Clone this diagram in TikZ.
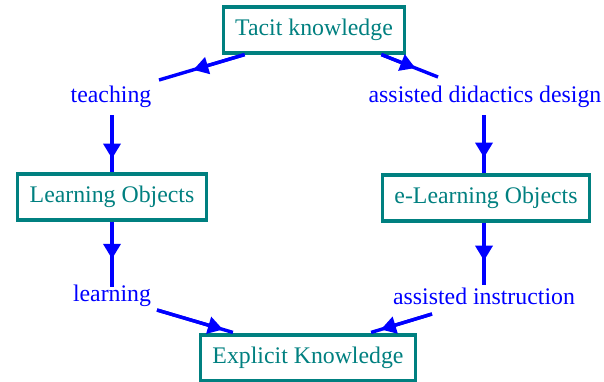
\documentclass[tikz,border=0pt]{standalone}
\usepackage{fontspec}
\setmainfont{Liberation Serif}
\usetikzlibrary{arrows.meta,calc}
\definecolor{boxteal}{RGB}{0,128,128}
\definecolor{flowblue}{RGB}{0,0,255}
\tikzset{
  kbox/.style={draw=boxteal, line width=3.2pt, fill=white, text=boxteal,
    inner xsep=12pt, minimum height=46pt, font=\fontsize{23.8}{28}\selectfont},
  stage/.style={text=flowblue, inner sep=0pt, font=\fontsize{23.8}{28}\selectfont},
  flow/.style={draw=flowblue, line width=3.4pt},
  flowtip/.style={flow, -{Triangle[length=15pt,width=17pt]}},
}
% a connector whose arrowhead sits part-way along it, at fraction #1
\newcommand{\flowlink}[3]{%
  \draw[flow] #2 -- #3;
  \draw[flowtip] #2 -- ($#2!#1!#3$);
}
\begin{document}
\begin{tikzpicture}[x=1pt,y=-1pt]
\useasboundingbox (0,0) rectangle (604,381);

% knowledge boxes
\node[kbox] (tacit)    at (314,30)  {Tacit knowledge};
\node[kbox] (lo)       at (112,197) {Learning Objects};
\node[kbox] (elo)      at (486,198) {e-Learning Objects};
\node[kbox] (explicit) at (308,358) {Explicit Knowledge};

% transformation stages
\node[stage] (teaching) at (111,97)  {teaching};
\node[stage] (design)   at (485,97)  {assisted didactics design};
\node[stage] (learning) at (112,296) {learning};
\node[stage] (instr)    at (484,296) {assisted instruction};

% connector end points
\coordinate (t1) at ($(tacit.south west)+(23,0)$);
\coordinate (t2) at ($(teaching.center)+(48,-17)$);
\coordinate (t3) at ($(teaching.center)+(1,18)$);
\coordinate (l1) at ($(learning.center)+(0,-9)$);
\coordinate (l2) at ($(learning.center)+(45,14)$);
\coordinate (e1) at ($(explicit.north west)+(34,-1)$);
\coordinate (t4) at ($(tacit.south east)+(-25,0)$);
\coordinate (d1) at ($(design.center)+(-47,-20)$);
\coordinate (d2) at ($(design.center)+(-1,18)$);
\coordinate (o1) at ($(elo.north)+(-2,0)$);
\coordinate (o2) at ($(elo.south)+(-2,0)$);
\coordinate (i1) at ($(instr.center)+(0,-11)$);
\coordinate (i2) at ($(instr.center)+(-52,18)$);
\coordinate (e2) at ($(explicit.north east)+(-46,-1)$);

% left branch
\flowlink{0.6}{(t1)}{(t2)}
\flowlink{0.76}{(t3)}{(lo.north)}
\flowlink{0.57}{(lo.south)}{(l1)}
\flowlink{0.87}{(l2)}{(e1)}

% right branch
\flowlink{0.6}{(t4)}{(d1)}
\flowlink{0.73}{(d2)}{(o1)}
\flowlink{0.61}{(o2)}{(i1)}
\flowlink{0.84}{(i2)}{(e2)}
\end{tikzpicture}
\end{document}
